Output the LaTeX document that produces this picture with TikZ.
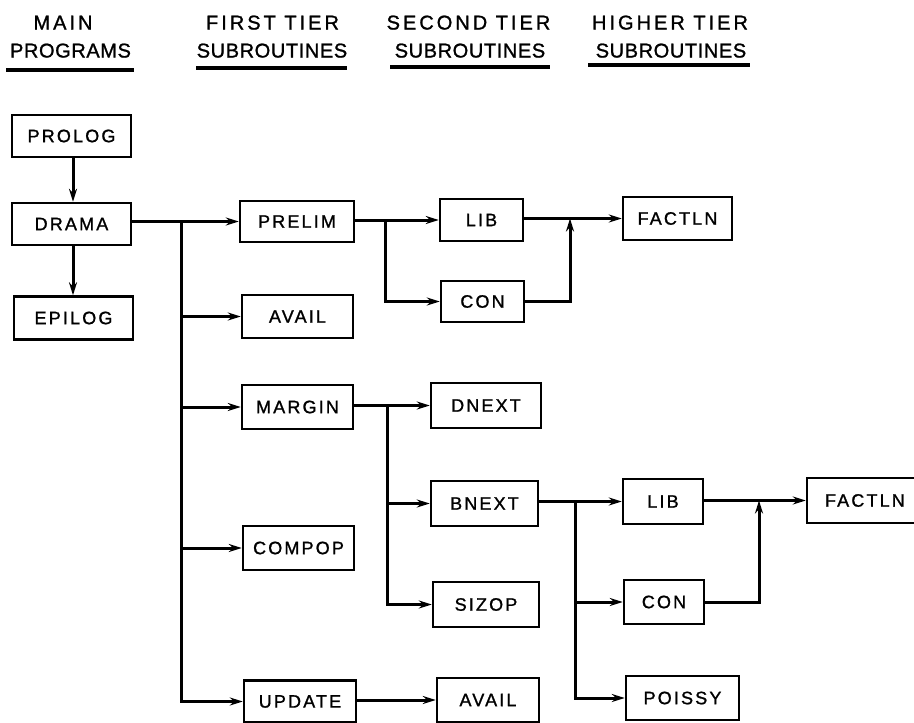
\documentclass[tikz,border=0pt]{standalone}
\usepackage{fontspec}
\usetikzlibrary{arrows.meta,calc}
\newfontfamily\boxfont{Liberation Sans}[LetterSpace=12,FakeBold=1.2]
\newfontfamily\headfontA{Liberation Sans}[LetterSpace=15,FakeBold=1.2]
\newfontfamily\headfontB{Liberation Sans}[LetterSpace=3,FakeBold=1.2]
\begin{document}
\begin{tikzpicture}[x=1pt,y=-1pt,
  prog/.style={draw, line width=2.4pt, inner sep=0pt, minimum height=43pt,
    font=\boxfont\fontsize{18}{20}\selectfont},
  conn/.style={line width=3pt},
  arr/.style={conn, -{Stealth[length=13pt,width=8pt]}},
  hA/.style={anchor=base, inner sep=0pt, font=\headfontA\fontsize{20}{22}\selectfont},
  hB/.style={anchor=base, inner sep=0pt, font=\headfontB\fontsize{20}{22}\selectfont},
  uline/.style={line width=3.4pt}]
\useasboundingbox (0,0) rectangle (914,723);

% headers
\node[hA] (h1a) at (63,29.5) {MAIN};
\node[hB] (h1b) at (70.5,57.5) {PROGRAMS};
\node[hA] (h2a) at (272.5,29.5) {FIRST TIER};
\node[hB] (h2b) at (272,57.5) {SUBROUTINES};
\node[hA] (h3a) at (468.5,29.5) {SECOND TIER};
\node[hB] (h3b) at (470,57.5) {SUBROUTINES};
\node[hA] (h4a) at (670,29.5) {HIGHER TIER};
\node[hB] (h4b) at (671,57.5) {SUBROUTINES};
\draw[uline] (6,70) -- (134,70);
\draw[uline] (196,68) -- (347,68);
\draw[uline] (390,67) -- (550,67);
\draw[uline] (588,65) -- (750,65);

% boxes
\node[prog, minimum width=119pt, minimum height=42pt] (prolog) at (71.5,136) {PROLOG};
\node[prog, minimum width=119pt, minimum height=42pt] (drama) at (71.5,224) {DRAMA};
\node[prog, minimum width=119pt] (epilog) at (73.5,318) {EPILOG};
\node[prog, minimum width=114pt, minimum height=41pt] (prelim) at (297,221.5) {PRELIM};
\node[prog, minimum width=111pt] (avail1) at (297.5,316.5) {AVAIL};
\node[prog, minimum width=111pt, minimum height=44pt] (margin) at (297.5,407) {MARGIN};
\node[prog, minimum width=111pt, minimum height=44pt] (compop) at (298.5,548) {COMPOP};
\node[prog, minimum width=112pt, minimum height=42pt] (update) at (300,701.5) {UPDATE};
\node[prog, minimum width=83pt, minimum height=42pt] (lib1) at (481.5,220) {LIB};
\node[prog, minimum width=83pt, minimum height=41pt] (con1) at (482.5,301.5) {CON};
\node[prog, minimum width=109pt] (factln1) at (677.5,218.5) {FACTLN};
\node[prog, minimum width=110pt, minimum height=45pt] (dnext) at (486,405.5) {DNEXT};
\node[prog, minimum width=107pt, minimum height=45pt] (bnext) at (484.5,503.5) {BNEXT};
\node[prog, minimum width=106pt, minimum height=45pt] (sizop) at (486,604.5) {SIZOP};
\node[prog, minimum width=102pt, minimum height=44pt] (avail2) at (488,700) {AVAIL};
\node[prog, minimum width=80pt, minimum height=45pt] (lib2) at (663,501.5) {LIB};
\node[prog, minimum width=80pt, minimum height=44pt] (con2) at (664,602) {CON};
\node[prog, minimum width=113pt, minimum height=44pt] (poissy) at (682.5,698) {POISSY};
\node[prog, minimum width=111pt, minimum height=45pt, text width=111pt, align=left] (factln2) at (862.5,500.5) {\hspace*{18pt}FACTLN};

% coordinates for trunks
\coordinate (v) at (73,0);
\coordinate (t) at (181,0);
\coordinate (b1) at (385,0);
\coordinate (m1) at (570,0);
\coordinate (b2) at (387,0);
\coordinate (b3) at (575,0);
\coordinate (m2) at (759,0);

% main column
\draw[arr] (prolog.south -| v) -- (drama.north -| v);
\draw[arr] (drama.south -| v) -- (epilog.north -| v);

% first tier
\draw[arr] (prelim.west -| drama.east) -- (prelim.west);
\draw[arr] (prelim.west -| t) |- (update.west);
\draw[arr] (t |- avail1.west) -- (avail1.west);
\draw[arr] (t |- margin.west) -- (margin.west);
\draw[arr] (t |- compop.west) -- (compop.west);

% prelim
\draw[arr] (lib1.west -| prelim.east) -- (lib1.west);
\draw[arr] (lib1.west -| b1) |- (con1.west);
\draw[arr] (factln1.west -| lib1.east) -- (factln1.west);
\draw[arr] (con1.east) -| (m1 |- factln1.west);

% margin
\draw[arr] (dnext.west -| margin.east) -- (dnext.west);
\draw[arr] (dnext.west -| b2) |- (sizop.west);
\draw[arr] (b2 |- bnext.west) -- (bnext.west);

% bnext
\draw[arr] (lib2.west -| bnext.east) -- (lib2.west);
\draw[arr] (lib2.west -| b3) |- (poissy.west);
\draw[arr] (b3 |- con2.west) -- (con2.west);
\draw[arr] (factln2.west -| lib2.east) -- (factln2.west);
\draw[arr] (con2.east) -| (m2 |- factln2.west);

% update
\draw[arr] (avail2.west -| update.east) -- (avail2.west);
\end{tikzpicture}
\end{document}
